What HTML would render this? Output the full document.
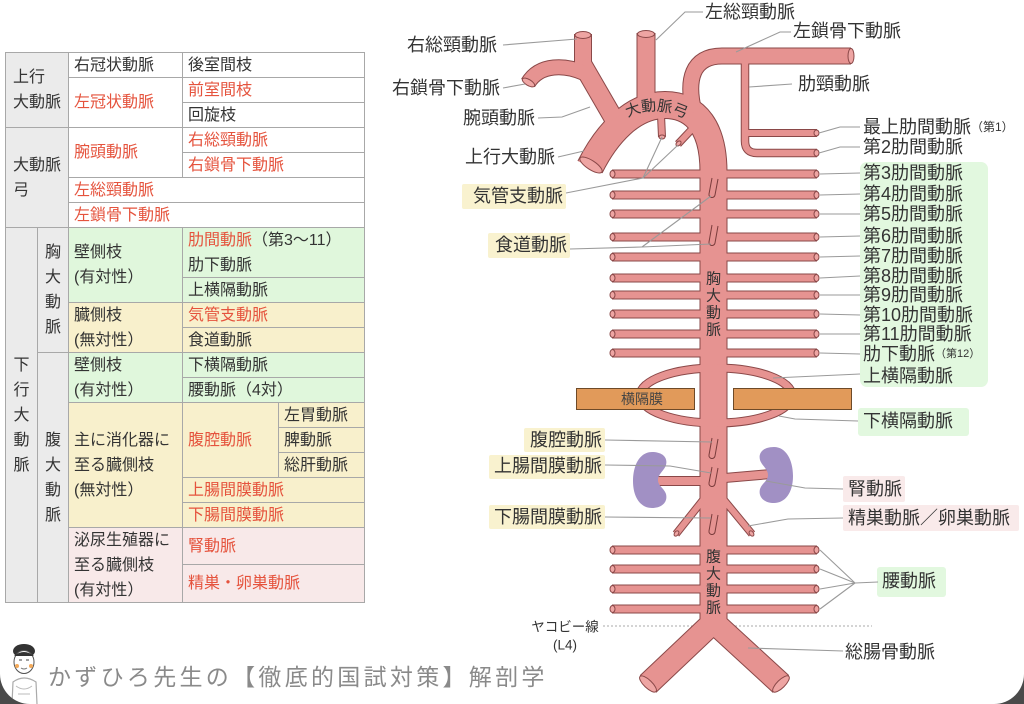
<!DOCTYPE html>
<html><head><meta charset="utf-8">
<style>
html,body{margin:0;padding:0;background:#4a4a4a;}
#pg{position:relative;width:1024px;height:704px;background:#fff;overflow:hidden;border-radius:0 0 30px 30px;font-family:"Liberation Sans","Noto Sans CJK JP",sans-serif;}
.c{position:absolute;box-sizing:border-box;border:1px solid #a8a8a8;font-size:16px;line-height:25px;padding-left:5px;color:#333;display:flex;flex-direction:column;justify-content:center;white-space:nowrap;background:#fff;}
.g{background:#ebebeb;padding-left:7px;}
.v{background:#ebebeb;padding-left:0;align-items:center;text-align:center;}
.gr{background:#e0f7dc;}
.ye{background:#f8f0cc;}
.pk{background:#f8e9e9;}
.r{color:#e5533d;}
.bk{color:#333;}
svg text{font-family:"Liberation Sans","Noto Sans CJK JP",sans-serif;}
</style></head>
<body>
<div id="pg">
<!-- table -->
<div class="c g" style="left:5px;top:52px;width:64px;height:76px">上行<br>大動脈</div>
<div class="c g" style="left:5px;top:127px;width:64px;height:101px">大動脈<br>弓</div>
<div class="c v" style="left:5px;top:227px;width:33px;height:376px">下<br>行<br>大<br>動<br>脈</div>
<div class="c v" style="left:37px;top:227px;width:32px;height:126px">胸<br>大<br>動<br>脈</div>
<div class="c v" style="left:37px;top:352px;width:32px;height:251px">腹<br>大<br>動<br>脈</div>

<div class="c" style="left:68px;top:52px;width:115px;height:26px">右冠状動脈</div>
<div class="c" style="left:182px;top:52px;width:183px;height:26px">後室間枝</div>
<div class="c r" style="left:68px;top:77px;width:115px;height:51px">左冠状動脈</div>
<div class="c r" style="left:182px;top:77px;width:183px;height:26px">前室間枝</div>
<div class="c" style="left:182px;top:102px;width:183px;height:26px">回旋枝</div>
<div class="c r" style="left:68px;top:127px;width:115px;height:51px">腕頭動脈</div>
<div class="c r" style="left:182px;top:127px;width:183px;height:26px">右総頸動脈</div>
<div class="c r" style="left:182px;top:152px;width:183px;height:26px">右鎖骨下動脈</div>
<div class="c r" style="left:68px;top:177px;width:297px;height:26px">左総頸動脈</div>
<div class="c r" style="left:68px;top:202px;width:297px;height:26px">左鎖骨下動脈</div>

<div class="c gr" style="left:68px;top:227px;width:115px;height:76px">壁側枝<br>(有対性）</div>
<div class="c gr" style="left:182px;top:227px;width:183px;height:51px"><span><span class="r">肋間動脈</span>（第3〜11）</span><span>肋下動脈</span></div>
<div class="c gr" style="left:182px;top:277px;width:183px;height:26px">上横隔動脈</div>
<div class="c ye" style="left:68px;top:302px;width:115px;height:51px">臓側枝<br>(無対性）</div>
<div class="c ye r" style="left:182px;top:302px;width:183px;height:26px">気管支動脈</div>
<div class="c ye" style="left:182px;top:327px;width:183px;height:26px">食道動脈</div>
<div class="c gr" style="left:68px;top:352px;width:115px;height:51px">壁側枝<br>(有対性）</div>
<div class="c gr" style="left:182px;top:352px;width:183px;height:26px">下横隔動脈</div>
<div class="c gr" style="left:182px;top:377px;width:183px;height:26px">腰動脈（4対）</div>
<div class="c ye" style="left:68px;top:402px;width:115px;height:126px">主に消化器に<br>至る臓側枝<br>(無対性）</div>
<div class="c ye r" style="left:182px;top:402px;width:97px;height:76px">腹腔動脈</div>
<div class="c ye" style="left:278px;top:402px;width:87px;height:26px">左胃動脈</div>
<div class="c ye" style="left:278px;top:427px;width:87px;height:26px">脾動脈</div>
<div class="c ye" style="left:278px;top:452px;width:87px;height:26px">総肝動脈</div>
<div class="c ye r" style="left:182px;top:477px;width:183px;height:26px">上腸間膜動脈</div>
<div class="c ye r" style="left:182px;top:502px;width:183px;height:26px">下腸間膜動脈</div>
<div class="c pk" style="left:68px;top:527px;width:115px;height:76px">泌尿生殖器に<br>至る臓側枝<br>(有対性）</div>
<div class="c pk r" style="left:182px;top:527px;width:183px;height:38px">腎動脈</div>
<div class="c pk r" style="left:182px;top:564px;width:183px;height:39px">精巣・卵巣動脈</div>

<svg width="1024" height="704" viewBox="0 0 1024 704" style="position:absolute;left:0;top:0">
<defs>
<path id="ao" d="M590,167 C606,135 632,105 665,105 C697,105 713.5,130 713.5,172 L713.5,630"/>
<path id="rcc" d="M583,34 L583,74"/>
<path id="bra" d="M581,62 L614,119"/>
<path id="rsub" d="M584,73 C566,65 540,63 528,83"/>
<path id="lcc" d="M646,33 L646,108"/>
<path id="lsub" d="M694,112 C686,80 692,56 722,56 L851,56"/>
<path id="cc" d="M745,60 L745,141 Q745,153 757,153 L817,153"/>
<path id="sup" d="M745,133 L817,133"/>
<path id="ic" d="M612,174H817M612,195H817M612,214H817M612,237H817M612,257H817M612,278H817M612,295H817M612,314H817M612,334H817M612,353H817"/>
<path id="lu" d="M612,550H817M612,569H817M612,589H817M612,609H817"/>
<path id="br1" d="M661,115 L662,137"/>
<path id="br2" d="M694,127 L678,144"/>
<ellipse id="dia" cx="716" cy="395.5" rx="76" ry="27.5"/>
<path id="ren" d="M656,481 L713,481 M713,479 L771,474"/>
<path id="gon" d="M703,500 L676,534 M724,500 L752,534"/>
<path id="il" d="M713.5,622 L648,684 M713.5,622 L781,684"/>
</defs>

<!-- Jacoby line -->
<line x1="603" y1="626" x2="872" y2="626" stroke="#aaa" stroke-width="1" stroke-dasharray="2,2"/>

<!-- vessel outlines -->
<g fill="none" stroke="#8a4848">
<use href="#ao" stroke-width="28"/>
<use href="#rcc" stroke-width="18"/>
<use href="#bra" stroke-width="20"/>
<use href="#rsub" stroke-width="16"/>
<use href="#lcc" stroke-width="19"/>
<use href="#lsub" stroke-width="17"/>
<use href="#cc" stroke-width="8.5"/>
<use href="#sup" stroke-width="8"/>
<use href="#ic" stroke-width="9"/>
<use href="#lu" stroke-width="9"/>
<use href="#br1" stroke-width="8"/>
<use href="#br2" stroke-width="8"/>
<use href="#dia" stroke-width="9"/>
<use href="#ren" stroke-width="10"/>
<use href="#gon" stroke-width="8"/>
<use href="#il" stroke-width="24"/>
</g>
<!-- vessel fills -->
<g fill="none" stroke="#e69391">
<use href="#ao" stroke-width="26"/>
<use href="#rcc" stroke-width="16"/>
<use href="#bra" stroke-width="18"/>
<use href="#rsub" stroke-width="14"/>
<use href="#lcc" stroke-width="17"/>
<use href="#lsub" stroke-width="15"/>
<use href="#cc" stroke-width="6.5"/>
<use href="#sup" stroke-width="6"/>
<use href="#ic" stroke-width="7"/>
<use href="#lu" stroke-width="7"/>
<use href="#br1" stroke-width="6"/>
<use href="#br2" stroke-width="6"/>
<use href="#dia" stroke-width="7"/>
<use href="#ren" stroke-width="8"/>
<use href="#gon" stroke-width="6"/>
<use href="#il" stroke-width="22"/>
</g>
<!-- cut ends -->
<g fill="#eea5a3" stroke="#8a4848" stroke-width="1">
<ellipse cx="591" cy="165" rx="13" ry="4.5" transform="rotate(33 591 165)"/>
<ellipse cx="583" cy="35" rx="8" ry="3.5"/>
<ellipse cx="646" cy="34" rx="8.5" ry="3.5"/>
<ellipse cx="528.5" cy="82.5" rx="7" ry="3" transform="rotate(31 528.5 82.5)"/>
<ellipse cx="851" cy="56" rx="3" ry="7.5"/>
<ellipse cx="648" cy="684" rx="11" ry="4" transform="rotate(43.5 648 684)"/>
<ellipse cx="781" cy="684" rx="11" ry="4" transform="rotate(-44.5 781 684)"/>
<ellipse cx="662" cy="137" rx="3" ry="2"/>
<ellipse cx="678.5" cy="143.5" rx="3" ry="2" transform="rotate(-45 678.5 143.5)"/>
<ellipse cx="676.5" cy="533.5" rx="3" ry="2" transform="rotate(-52 676.5 533.5)"/>
<ellipse cx="751.5" cy="533.5" rx="3" ry="2" transform="rotate(52 751.5 533.5)"/>
<ellipse cx="816.5" cy="133" rx="2.5" ry="3"/>
<ellipse cx="816.5" cy="153" rx="2.5" ry="3.2"/>
<g id="capsR">
<ellipse cx="816.5" cy="174" rx="2.5" ry="3.5"/><ellipse cx="816.5" cy="195" rx="2.5" ry="3.5"/><ellipse cx="816.5" cy="214" rx="2.5" ry="3.5"/><ellipse cx="816.5" cy="237" rx="2.5" ry="3.5"/><ellipse cx="816.5" cy="257" rx="2.5" ry="3.5"/><ellipse cx="816.5" cy="278" rx="2.5" ry="3.5"/><ellipse cx="816.5" cy="295" rx="2.5" ry="3.5"/><ellipse cx="816.5" cy="314" rx="2.5" ry="3.5"/><ellipse cx="816.5" cy="334" rx="2.5" ry="3.5"/><ellipse cx="816.5" cy="353" rx="2.5" ry="3.5"/>
<ellipse cx="816.5" cy="550" rx="2.5" ry="3.5"/><ellipse cx="816.5" cy="569" rx="2.5" ry="3.5"/><ellipse cx="816.5" cy="589" rx="2.5" ry="3.5"/><ellipse cx="816.5" cy="609" rx="2.5" ry="3.5"/>
</g>
<ellipse cx="612.5" cy="174" rx="2.5" ry="3.5"/><ellipse cx="612.5" cy="195" rx="2.5" ry="3.5"/><ellipse cx="612.5" cy="214" rx="2.5" ry="3.5"/><ellipse cx="612.5" cy="237" rx="2.5" ry="3.5"/><ellipse cx="612.5" cy="257" rx="2.5" ry="3.5"/><ellipse cx="612.5" cy="278" rx="2.5" ry="3.5"/><ellipse cx="612.5" cy="295" rx="2.5" ry="3.5"/><ellipse cx="612.5" cy="314" rx="2.5" ry="3.5"/><ellipse cx="612.5" cy="334" rx="2.5" ry="3.5"/><ellipse cx="612.5" cy="353" rx="2.5" ry="3.5"/>
<ellipse cx="612.5" cy="550" rx="2.5" ry="3.5"/><ellipse cx="612.5" cy="569" rx="2.5" ry="3.5"/><ellipse cx="612.5" cy="589" rx="2.5" ry="3.5"/><ellipse cx="612.5" cy="609" rx="2.5" ry="3.5"/>
</g>

<!-- stubs on aorta -->
<g fill="none" stroke="#7a3c3c" stroke-width="1">
<path d="M712,178 L709,194 A3 3 0 0 0 715,195 L718,179"/>
<path d="M712,225 L709,242 A3 3 0 0 0 715,243 L718,226"/>
<path d="M712,438 L709,455 A3 3 0 0 0 715,456 L718,439"/>
<path d="M712,467 L709,483 A3 3 0 0 0 715,484 L718,468"/>
<path d="M712,514 L709,531 A3 3 0 0 0 715,532 L718,515"/>
</g>

<!-- kidneys -->
<path d="M652,452 C640,452 633,465 633,481 C633,498 641,508 652,508 C662,508 668,502 666,494 C664,488 658,486 658,480 C658,474 664,471 666,465 C668,457 662,452 652,452 Z" fill="#a190c4"/>
<path d="M774,447 C786,447 793,460 793,476 C793,493 785,503 774,503 C764,503 758,497 760,489 C762,483 768,481 768,475 C768,469 762,466 760,460 C758,452 764,447 774,447 Z" fill="#a190c4"/>

<!-- diaphragm -->
<rect x="576.5" y="388.5" width="118" height="21" fill="#e19a5a" stroke="#6e4a28" stroke-width="1"/>
<rect x="733.5" y="388.5" width="118" height="21" fill="#e19a5a" stroke="#6e4a28" stroke-width="1"/>
<text x="642" y="399" font-size="14" fill="#444" text-anchor="middle" dominant-baseline="central">横隔膜</text>

<!-- aorta texts -->
<path id="archtxt" d="M621,121 Q655,100 692,122" fill="none"/>
<text font-size="15" fill="#333"><textPath href="#archtxt" startOffset="50%" text-anchor="middle">大動脈弓</textPath></text>
<g font-size="15" fill="#333" text-anchor="middle" dominant-baseline="central">
<text x="713.5" y="279">胸</text><text x="713.5" y="296">大</text><text x="713.5" y="313">動</text><text x="713.5" y="330">脈</text>
<text x="713.5" y="557">腹</text><text x="713.5" y="574">大</text><text x="713.5" y="591">動</text><text x="713.5" y="608">脈</text>
</g>

<!-- label highlight boxes -->
<rect x="860" y="162" width="128" height="225" rx="7" fill="#e2f8df"/>
<rect x="462" y="184" width="104" height="25" rx="2" fill="#f9f2cf"/>
<rect x="488" y="233" width="82" height="25" rx="2" fill="#f9f2cf"/>
<rect x="524" y="428" width="81" height="24" rx="2" fill="#f9f2cf"/>
<rect x="489" y="455" width="116" height="24" rx="2" fill="#f9f2cf"/>
<rect x="489" y="505" width="116" height="24" rx="2" fill="#f9f2cf"/>
<rect x="858" y="408" width="111" height="28" rx="3" fill="#e2f8df"/>
<rect x="843" y="476" width="62" height="26" rx="2" fill="#f9eaea"/>
<rect x="843" y="505" width="176" height="26" rx="2" fill="#f9eaea"/>
<rect x="877" y="567" width="69" height="30" rx="3" fill="#e2f8df"/>

<!-- leader lines -->
<g fill="none" stroke="#9a9a9a" stroke-width="1.1">
<polyline points="503,45 577,39"/>
<polyline points="503,88 525,84"/>
<polyline points="538,118 562,117 590,107"/>
<polyline points="558,157 584,151"/>
<polyline points="703,12 685,12 656,40"/>
<polyline points="791,32 780,32 736,52"/>
<polyline points="792,84 749,87"/>
<polyline points="860,127 840,127 819,133"/>
<polyline points="860,147 840,147 819,153"/>
<polyline points="820,174 860,173"/><polyline points="820,195 860,194"/><polyline points="820,214 860,214"/><polyline points="820,237 860,236"/><polyline points="820,257 860,256"/><polyline points="820,278 860,276"/><polyline points="820,295 860,295"/><polyline points="820,314 860,315"/><polyline points="820,334 860,334"/><polyline points="820,353 860,354"/>
<polyline points="773,378 860,374"/>
<polyline points="779,416 795,419 858,421"/>
<polyline points="766,481 805,488 843,489"/>
<polyline points="748,526 788,519 843,518"/>
<polyline points="820,550 855,583 820,569"/><polyline points="820,589 855,583 820,609"/><polyline points="855,583 878,582"/>
<polyline points="748,648 843,651"/>
<polyline points="566,193 643,178 662,137"/><polyline points="643,178 678,145"/>
<polyline points="570,249 642,247 711,244"/><polyline points="642,247 711,196"/>
<polyline points="605,440 712,442"/>
<polyline points="605,465 670,466 711,473"/>
<polyline points="605,517 711,518"/>
</g>

<!-- labels -->
<g font-size="18" fill="#333" dominant-baseline="central">
<text x="497" y="45" text-anchor="end">右総頸動脈</text>
<text x="500" y="88" text-anchor="end">右鎖骨下動脈</text>
<text x="535" y="118" text-anchor="end">腕頭動脈</text>
<text x="555" y="157" text-anchor="end">上行大動脈</text>
<text x="563" y="196" text-anchor="end">気管支動脈</text>
<text x="567" y="245" text-anchor="end">食道動脈</text>
<text x="602" y="440" text-anchor="end">腹腔動脈</text>
<text x="602" y="466" text-anchor="end">上腸間膜動脈</text>
<text x="602" y="517" text-anchor="end">下腸間膜動脈</text>
<text x="705" y="12">左総頸動脈</text>
<text x="793" y="31">左鎖骨下動脈</text>
<text x="798" y="84">肋頸動脈</text>
<text x="863" y="127">最上肋間動脈<tspan font-size="12">（第1）</tspan></text>
<text x="863" y="147">第2肋間動脈</text>
<text x="863" y="173">第3肋間動脈</text>
<text x="863" y="194">第4肋間動脈</text>
<text x="863" y="214">第5肋間動脈</text>
<text x="863" y="236">第6肋間動脈</text>
<text x="863" y="256">第7肋間動脈</text>
<text x="863" y="276">第8肋間動脈</text>
<text x="863" y="295">第9肋間動脈</text>
<text x="863" y="315">第10肋間動脈</text>
<text x="863" y="334">第11肋間動脈</text>
<text x="863" y="354">肋下動脈<tspan font-size="11">（第12）</tspan></text>
<text x="863" y="376">上横隔動脈</text>
<text x="863" y="421">下横隔動脈</text>
<text x="848" y="489">腎動脈</text>
<text x="848" y="518">精巣動脈／卵巣動脈</text>
<text x="882" y="581">腰動脈</text>
<text x="845" y="652">総腸骨動脈</text>
</g>
<g font-size="13.5" fill="#333" text-anchor="middle" dominant-baseline="central">
<text x="565" y="627">ヤコビー線</text>
<text x="565" y="645">(L4)</text>
</g>

<!-- footer -->
<g>
<ellipse cx="24" cy="651" rx="11" ry="7" fill="#333"/>
<ellipse cx="24" cy="662" rx="10" ry="11.5" fill="#fff" stroke="#555" stroke-width="1"/>
<path d="M14,656 Q24,648 34,656" fill="#333"/>
<line x1="19" y1="660" x2="22" y2="660" stroke="#444" stroke-width="1"/>
<line x1="26" y1="660" x2="29" y2="660" stroke="#444" stroke-width="1"/>
<path d="M21,668 Q24,670 27,668" stroke="#777" fill="none" stroke-width="1"/>
<circle cx="17" cy="666" r="2" fill="#f2a95a"/>
<circle cx="31" cy="666" r="2" fill="#f2a95a"/>
<path d="M12,704 L13,682 Q24,674 36,682 L37,704" fill="none" stroke="#aaa" stroke-width="1.2"/>
<path d="M16,686 Q24,692 32,686 M18,694 L30,694" fill="none" stroke="#bbb" stroke-width="1"/>
</g>
<text x="48" y="677" font-size="23" fill="#8a8a8a" letter-spacing="3.3" dominant-baseline="central">かずひろ先生の【徹底的国試対策】解剖学</text>
</svg>
</div>
</body></html>
